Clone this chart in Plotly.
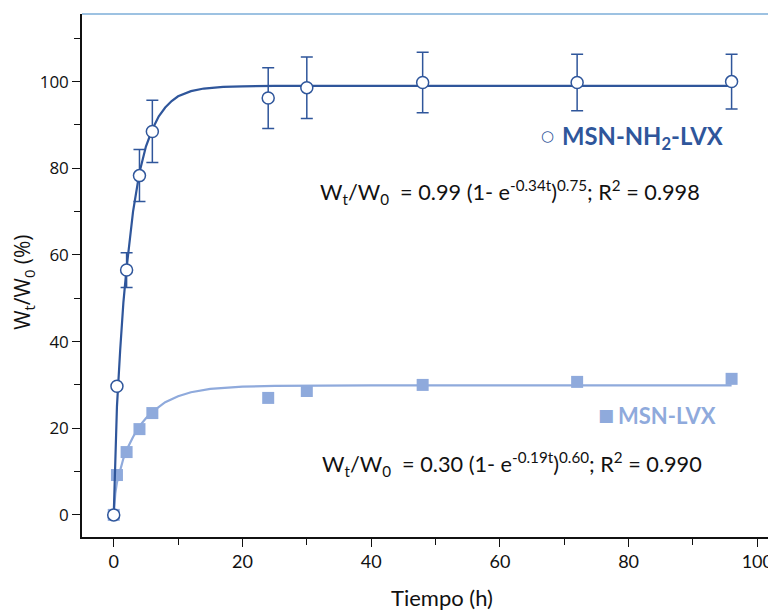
import plotly.graph_objects as go

# ---- data ----
time_h = [0, 0.5, 2, 4, 6, 24, 30, 48, 72, 96]
nh2_lvx = [0, 29.7, 56.5, 78.3, 88.5, 96.2, 98.6, 99.8, 99.8, 100.0]
nh2_lvx_err = [0, 0, 4.0, 6.0, 7.2, 7.0, 7.1, 7.0, 6.5, 6.3]
msn_lvx = [0, 9.2, 14.5, 19.8, 23.5, 27.0, 28.6, 30.0, 30.7, 31.4]

# fitted curves as drawn in the picture
fit_nh2_t = [0, 0.25, 0.5, 1, 1.5, 2, 2.5, 3, 4, 5, 6, 7, 8, 9, 10, 12, 14, 17, 20, 25, 40, 96]
fit_nh2_y = [0, 15, 25, 38, 49, 57, 64, 70, 79, 85, 89, 92, 94, 95.5, 96.6, 97.8, 98.4, 98.8, 98.9, 99, 99, 99]
fit_lvx_t = [0, 0.25, 0.5, 1, 1.5, 2, 3, 4, 5, 6, 7, 8, 10, 12, 15, 20, 25, 40, 96]
fit_lvx_y = [0, 5, 7.5, 10.5, 13, 15, 18, 20.5, 22.3, 23.8, 25, 26, 27.4, 28.3, 29.1, 29.6, 29.8, 29.9, 29.9]

x_ticks = [0, 20, 40, 60, 80, 100]
y_ticks = [0, 20, 40, 60, 80, 100]

DARK = "#2F569B"
LIGHT = "#8FAADC"

fig = go.Figure()

fig.add_trace(go.Scatter(x=fit_lvx_t, y=fit_lvx_y, mode="lines",
                         line=dict(color=LIGHT, width=2.2), hoverinfo="skip"))
fig.add_trace(go.Scatter(x=time_h, y=msn_lvx, mode="markers",
                         marker=dict(symbol="square", size=12, color=LIGHT)))
fig.add_trace(go.Scatter(x=fit_nh2_t, y=fit_nh2_y, mode="lines",
                         line=dict(color=DARK, width=2.2), hoverinfo="skip"))
fig.add_trace(go.Scatter(x=time_h, y=nh2_lvx, mode="markers",
                         error_y=dict(type="data", array=nh2_lvx_err, color=DARK,
                                      thickness=1.5, width=6),
                         marker=dict(symbol="circle", size=12, color="white",
                                     line=dict(color=DARK, width=1.5))))


def note(x, y, text, font, **kw):
    opts = dict(xanchor="center", yanchor="middle")
    opts.update(kw)
    fig.add_annotation(x=x, y=y, xref="paper", yref="paper", showarrow=False,
                       text=text, font=font, **opts)


eq_font = dict(family="Lato, Open Sans, sans-serif", size=21.7, color="#111111")
note(0.617, 0.660,
     "W<sub>t</sub>/W<sub>0</sub>  = 0.99 (1- e<sup>-0.34t</sup>)<sup>0.75</sup>; R<sup>2</sup> = 0.998",
     eq_font)
note(0.619, 0.140,
     "W<sub>t</sub>/W<sub>0</sub>  = 0.30 (1- e<sup>-0.19t</sup>)<sup>0.60</sup>; R<sup>2</sup> = 0.990",
     eq_font)
note(0.9265, 0.763, "<b>MSN-NH<sub>2</sub>-LVX</b>",
     dict(family="Lato, Open Sans, sans-serif", size=23.8, color=DARK), xanchor="right")
note(0.9165, 0.233, "<b>MSN-LVX</b>",
     dict(family="Lato, Open Sans, sans-serif", size=22, color=LIGHT), xanchor="right")
# legend glyphs
note(0.6705, 0.766, "○", dict(family="DejaVu Sans", size=15, color=DARK))
note(0.7555, 0.233, "■", dict(family="DejaVu Sans", size=17, color=LIGHT))

# axis titles
note(0.519, -0.1166, "Tiempo (h)", dict(family="Lato, sans-serif", size=22))
note(-0.085, 0.486, "W<sub>t</sub>/W<sub>0</sub> (%)",
     dict(family="Open Sans, sans-serif", size=21), textangle=-90)

# top border
fig.add_shape(type="line", xref="paper", yref="paper", x0=0, x1=1, y0=1, y1=1,
              line=dict(color="#3D85C6", width=1.2))

# page body has an 8px margin: figure is offset so the plot area lands where the reference has it
fig.update_layout(
    width=768, height=606,
    margin=dict(l=74, r=0, t=6, b=77),
    plot_bgcolor="white", paper_bgcolor="white",
    showlegend=False,
    font=dict(family="Open Sans, sans-serif", color="#111111"),
)
fig.update_xaxes(
    automargin=False,
    range=[-4.93, 102.9], tickvals=x_ticks, showgrid=False, zeroline=False,
    showline=True, linecolor="#111111", linewidth=1.5,
    ticks="outside", ticklen=8, tickwidth=1.2, tickcolor="#111111",
    minor=dict(tickvals=[10, 30, 50, 70, 90], ticks="outside", ticklen=6, tickcolor="#111111"),
    tickfont=dict(family="Lato, sans-serif", size=18),
)
fig.update_yaxes(
    automargin=False,
    range=[-5.1, 115.6], tickvals=y_ticks, showgrid=False, zeroline=False,
    showline=True, linecolor="#111111", linewidth=1.5,
    ticks="outside", ticklen=8, tickwidth=1.2, tickcolor="#111111",
    minor=dict(tickvals=[10, 30, 50, 70, 90, 110], ticks="outside", ticklen=6, tickcolor="#111111"),
    tickfont=dict(family="Open Sans, sans-serif", size=17),
)

fig.write_html("out.html")
